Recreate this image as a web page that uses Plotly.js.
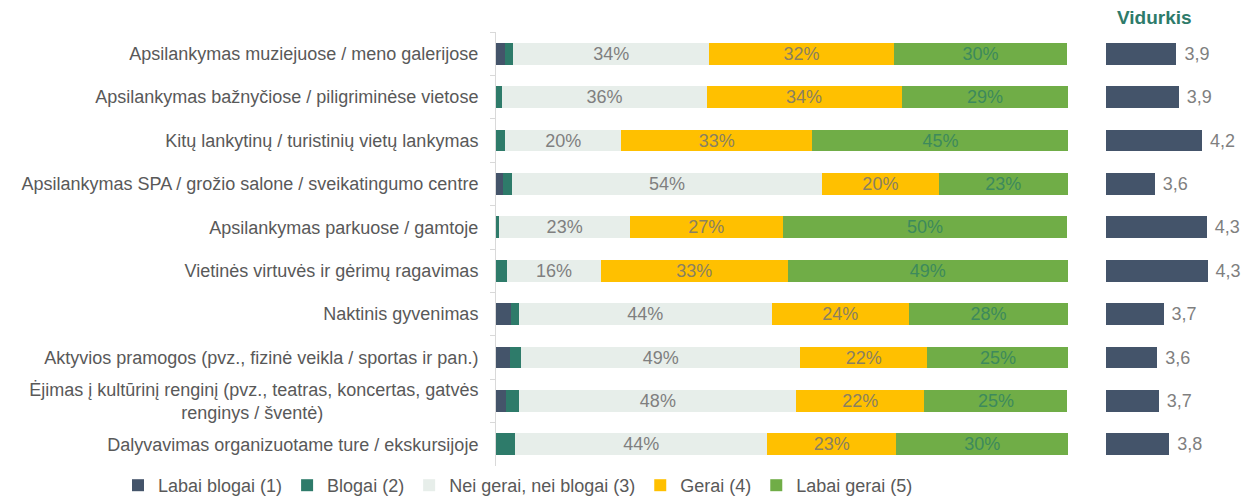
<!DOCTYPE html>
<html>
<head>
<meta charset="utf-8">
<script src="https://cdn.plot.ly/plotly-3.0.1.min.js"></script>
<style>
  html, body { margin: 0; padding: 0; background: #fff; }
  #chart { width: 1254px; height: 504px; }
</style>
</head>
<body>
<div id="chart"></div>
<script>
const pad = '\u00A0'.repeat(31)

const categories = [
    'Apsilankymas muziejuose / meno galerijose',
    'Apsilankymas bažnyčiose / piligriminėse vietose',
    'Kitų lankytinų / turistinių vietų lankymas',
    'Apsilankymas SPA / grožio salone / sveikatingumo centre',
    'Apsilankymas parkuose / gamtoje',
    'Vietinės virtuvės ir gėrimų ragavimas',
    'Naktinis gyvenimas',
    'Aktyvios pramogos (pvz., fizinė veikla / sportas ir pan.)',
    'Ėjimas į kultūrinį renginį (pvz., teatras, koncertas, gatvės<br>renginys / šventė)' + pad,
    'Dalyvavimas organizuotame ture / ekskursijoje'
]

// shares in %
const labaiBlogai = [1.6, 0, 0, 1.3, 0, 0, 2.7, 2.5, 1.7, 0]
const blogai = [1.4, 1.1, 1.6, 1.5, 0.6, 2.0, 1.3, 1.9, 2.4, 3.4]
const neiGeraiNeiBlogai = [34.3, 35.7, 20.3, 54.2, 22.8, 16.3, 44.2, 48.8, 48.4, 44.0]
const gerai = [32.2, 34.1, 33.4, 20.4, 26.7, 32.7, 24.0, 22.2, 22.4, 22.6]
const labaiGerai = [30.4, 29.2, 44.8, 22.6, 49.8, 49.0, 27.8, 24.7, 25.0, 30.0]

const vidurkis = [3.88, 3.91, 4.2, 3.61, 4.26, 4.27, 3.72, 3.64, 3.66, 3.79]

const font = 'Liberation Sans, Arial, sans-serif'
const W = 1254, H = 504

function segment(name, values, color, textColor) {
    return {
        type: 'bar',
        orientation: 'h',
        name: name,
        x: values,
        y: categories,
        marker: { color: color },
        text: textColor ? values : undefined,
        texttemplate: textColor ? '%{x:.0f}%' : undefined,
        textposition: textColor ? 'inside' : 'none',
        insidetextanchor: 'middle',
        textfont: { family: font, size: 18, color: textColor },
        constraintext: 'none',
        hoverinfo: 'x+name'
    }
}

const data = [
    segment('Labai blogai (1)', labaiBlogai, '#44546a'),
    segment('Blogai (2)', blogai, '#2e7b6a'),
    segment('Nei gerai, nei blogai (3)', neiGeraiNeiBlogai, '#e7eeea', '#7f7f7f'),
    segment('Gerai (4)', gerai, '#ffc000', '#8a8060'),
    segment('Labai gerai (5)', labaiGerai, '#70ad47', '#3d8a5c'),
    {
        type: 'bar',
        orientation: 'h',
        x: vidurkis,
        y: categories,
        xaxis: 'x2',
        yaxis: 'y2',
        marker: { color: '#44546a' },
        texttemplate: '\u00A0%{x:.1f}',
        text: vidurkis,
        textposition: 'outside',
        textfont: { family: font, size: 18, color: '#7f7f7f' },
        cliponaxis: true,
        showlegend: false,
        hoverinfo: 'x'
    }
]

const yDomain = [38 / H, 1 - 32 / H]

const layout = {
    width: W,
    height: H,
    barmode: 'stack',
    bargap: 0.5,
    separators: ', ',
    margin: { l: 0, r: 0, t: 0, b: 0 },
    paper_bgcolor: '#fff',
    plot_bgcolor: '#fff',
    font: { family: font, size: 18, color: '#595959' },
    showlegend: true,
    legend: {
        orientation: 'h',
        x: 118 / W,
        xanchor: 'left',
        y: 0,
        yanchor: 'bottom',
        font: { family: font, size: 18, color: '#595959' },
        traceorder: 'normal',
        itemwidth: 30
    },
    xaxis: {
        domain: [496 / W, 1068 / W],
        range: [0, 100],
        visible: false,
        fixedrange: true
    },
    yaxis: {
        domain: yDomain,
        autorange: 'reversed',
        showline: true,
        linecolor: '#d9d9d9',
        ticks: 'outside',
        tickson: 'boundaries',
        ticklen: 5,
        tickcolor: '#d9d9d9',
        ticklabelstandoff: 13,
        tickfont: { family: font, size: 18, color: '#595959' },
        showgrid: false,
        zeroline: false
    },
    xaxis2: {
        domain: [1106 / W, 1],
        range: [3, 4.85],
        anchor: 'y2',
        visible: false,
        fixedrange: true
    },
    yaxis2: {
        domain: yDomain,
        anchor: 'x2',
        matches: 'y',
        autorange: 'reversed',
        visible: false,
        showgrid: false
    },
    annotations: [{
        text: '<b>Vidurkis</b>',
        xref: 'x2 domain',
        yref: 'paper',
        x: 0.33,
        xanchor: 'center',
        y: yDomain[1],
        yanchor: 'bottom',
        yshift: 2,
        showarrow: false,
        font: { family: font, size: 19, color: '#2e7b6a' }
    }]
}

Plotly.newPlot('chart', data, layout, { displayModeBar: false, staticPlot: true })
</script>
</body>
</html>
